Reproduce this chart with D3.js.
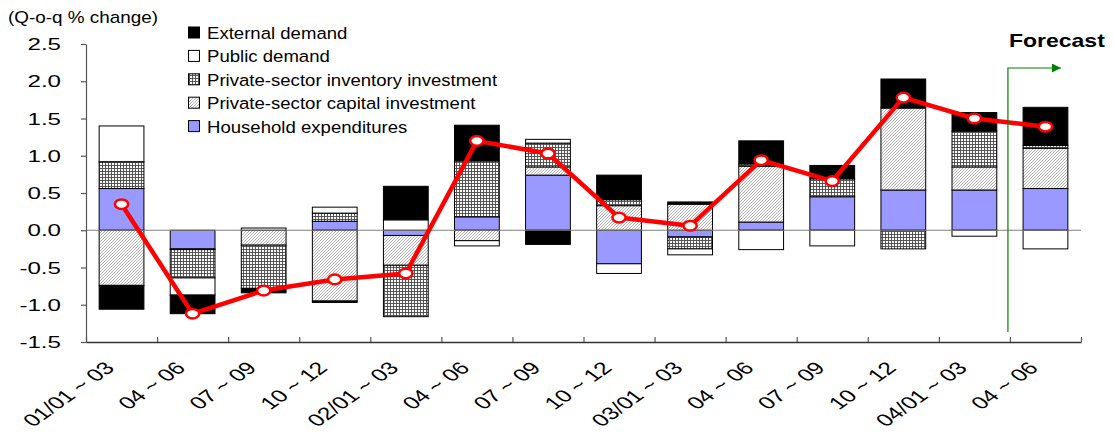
<!DOCTYPE html>
<html>
<head>
<meta charset="utf-8">
<script src="https://d3js.org/d3.v7.min.js"></script>
<style>
    body { margin: 0; background: #fff; }
    svg { display: block; font-family: "Liberation Sans", Arial, sans-serif; }
</style>
</head>
<body>
<svg id="chart" width="1114" height="436"></svg>
<script>
var categories = ["01/01 ~ 03", "04 ~ 06", "07 ~ 09", "10 ~ 12",
                  "02/01 ~ 03", "04 ~ 06", "07 ~ 09", "10 ~ 12",
                  "03/01 ~ 03", "04 ~ 06", "07 ~ 09", "10 ~ 12",
                  "04/01 ~ 03", "04 ~ 06"];

// contributions to q-o-q change, % points
var household    = [0.56, -0.25, 0.00, 0.12, -0.07, 0.18, 0.74, -0.45, -0.09, 0.11, 0.45, 0.54, 0.54, 0.56];
var capital      = [-0.74, -0.01, -0.20, -0.95, -0.40, -0.14, 0.11, 0.33, 0.35, 0.75, 0.00, 1.10, 0.31, 0.54];
var inventory    = [0.36, -0.38, -0.58, 0.11, -0.69, 0.75, 0.32, 0.08, -0.16, 0.03, 0.24, -0.25, 0.48, 0.04];
var publicDemand = [0.48, -0.23, 0.03, 0.08, 0.14, -0.07, 0.05, -0.13, -0.08, -0.26, -0.21, 0.00, -0.08, -0.25];
var external     = [-0.32, -0.25, -0.06, -0.02, 0.45, 0.48, -0.19, 0.33, 0.03, 0.31, 0.18, 0.39, 0.25, 0.51];

// real GDP (red line)
var gdp = [0.35, -1.12, -0.81, -0.66, -0.58, 1.20, 1.03, 0.17, 0.06, 0.94, 0.66, 1.78, 1.50, 1.39];

var yTicks = [-1.5, -1.0, -0.5, 0.0, 0.5, 1.0, 1.5, 2.0, 2.5];
var forecastFrom = 13;   // index of first forecast quarter

var keys = ["household", "capital", "inventory", "publicDemand", "external"];
var legendItems = [
    {key: "external", label: "External demand"},
    {key: "publicDemand", label: "Public demand"},
    {key: "inventory", label: "Private-sector inventory investment"},
    {key: "capital", label: "Private-sector capital investment"},
    {key: "household", label: "Household expenditures"}
];

var table = categories.map(function (c, i) {
    return {
        cat: c,
        household: household[i],
        capital: capital[i],
        inventory: inventory[i],
        publicDemand: publicDemand[i],
        external: external[i]
    };
});

var svg = d3.select("#chart");

var plotLeft = 86, plotRight = 1081, plotTop = 44, plotBottom = 342;

var y = d3.scaleLinear().domain([-1.5, 2.5]).range([plotBottom, plotTop]);
var x = d3.scaleBand()
    .domain(d3.range(categories.length))
    .range([plotLeft, plotRight])
    .paddingInner(0.37)
    .paddingOuter(0.185);
var xEdge = d3.scaleLinear().domain([0, categories.length]).range([plotLeft, plotRight]);

// fill patterns
var defs = svg.append("defs");
var grid = defs.append("pattern").attr("id", "grid")
    .attr("patternUnits", "userSpaceOnUse").attr("width", 3).attr("height", 3);
grid.append("rect").attr("width", 3).attr("height", 3).attr("fill", "#fff");
grid.append("path").attr("d", "M0,0.5H3M0.5,0V3")
    .attr("stroke", "#555").attr("stroke-width", 1);

var hatch = defs.append("pattern").attr("id", "hatch")
    .attr("patternUnits", "userSpaceOnUse").attr("width", 3).attr("height", 3);
hatch.append("rect").attr("width", 3).attr("height", 3).attr("fill", "#fff");
hatch.append("path").attr("d", "M0,3L3,0M-1,1L1,-1M2,4L4,2")
    .attr("stroke", "#999").attr("stroke-width", 0.8);

var fills = {
    household: "#9999ff",
    capital: "url(#hatch)",
    inventory: "url(#grid)",
    publicDemand: "#ffffff",
    external: "#000000"
};

// the original's text is drawn wider than normal
function wideText(parent, tx, ty, str, size, sx, anchor, weight) {
    var g = parent.append("g")
        .attr("transform", "translate(" + tx + "," + ty + ") scale(" + sx + ",1)");
    g.append("text")
        .attr("text-anchor", anchor || "start")
        .attr("font-size", size)
        .attr("font-weight", weight || "normal")
        .attr("fill", "#000")
        .text(str);
    return g;
}

// stacked bars
var stacked = d3.stack().keys(keys).offset(d3.stackOffsetDiverging)(table);

svg.append("g").selectAll("g")
    .data(stacked)
    .enter()
    .append("g")
    .attr("fill", function (s) { return fills[s.key]; })
    .selectAll("rect")
    .data(function (s) { return s.filter(function (d) { return d[1] !== d[0]; }); })
    .enter()
    .append("rect")
    .attr("x", function (d) { return x(table.indexOf(d.data)); })
    .attr("width", x.bandwidth())
    .attr("y", function (d) { return y(Math.max(d[0], d[1])); })
    .attr("height", function (d) { return Math.abs(y(d[0]) - y(d[1])); })
    .attr("stroke", "#000")
    .attr("stroke-width", 1);

// zero line
svg.append("line")
    .attr("x1", plotLeft).attr("x2", plotRight)
    .attr("y1", y(0)).attr("y2", y(0))
    .attr("stroke", "#808080").attr("stroke-width", 1);

// axes
svg.append("g")
    .attr("transform", "translate(" + plotLeft + ",0)")
    .call(d3.axisLeft(y).tickValues(yTicks).tickSize(5).tickSizeOuter(0).tickFormat(""));
var xAxis = svg.append("g")
    .attr("transform", "translate(0," + plotBottom + ")")
    .call(d3.axisBottom(xEdge).tickValues(d3.range(categories.length + 1)).tickSize(-5).tickSizeOuter(0).tickFormat(""));
svg.selectAll(".domain, .tick line").attr("stroke", "#555").attr("stroke-width", 1.2);
xAxis.select(".domain").attr("stroke", "#333").attr("stroke-width", 1.5);

yTicks.forEach(function (t) {
    wideText(svg, 61, y(t) + 6, d3.format(".1f")(t).replace("−", "-"), 17, 1.42, "end");
});

categories.forEach(function (c, i) {
    var cx = x(i) + x.bandwidth() / 2;
    svg.append("g")
        .attr("transform", "translate(" + (cx - 6) + "," + (plotBottom + 27) + ") scale(1.4,1) rotate(-45)")
        .append("text")
        .attr("text-anchor", "end")
        .attr("font-size", 17.5)
        .text(c);
});

// GDP line
var line = d3.line()
    .x(function (d, i) { return x(i) + x.bandwidth() / 2; })
    .y(function (d) { return y(d); });

svg.append("path")
    .datum(gdp)
    .attr("d", line)
    .attr("fill", "none")
    .attr("stroke", "#ff0000")
    .attr("stroke-width", 4.5)
    .attr("stroke-linejoin", "round");

svg.append("g").selectAll("ellipse")
    .data(gdp)
    .enter()
    .append("ellipse")
    .attr("cx", function (d, i) { return x(i) + x.bandwidth() / 2; })
    .attr("cy", function (d) { return y(d); })
    .attr("rx", 6.6)
    .attr("ry", 4.8)
    .attr("fill", "#fff")
    .attr("stroke", "#ff0000")
    .attr("stroke-width", 2.5);

// legend
var legend = svg.append("g");
legendItems.forEach(function (item, i) {
    var cy = 33 + i * 23.4;
    legend.append("rect")
        .attr("x", 188.5).attr("y", cy - 6)
        .attr("width", 11).attr("height", 11)
        .attr("fill", fills[item.key])
        .attr("stroke", "#000").attr("stroke-width", 1);
    wideText(legend, 207, cy + 6, item.label, 16.3, 1.14, "start");
});

// unit label
wideText(svg, 8, 23, "(Q-o-q % change)", 16, 1.18, "start");

// forecast marker
var fx = xEdge(forecastFrom) - 2;
defs.append("marker").attr("id", "arrow")
    .attr("viewBox", "0 0 10 10").attr("refX", 10).attr("refY", 5)
    .attr("markerWidth", 13).attr("markerHeight", 9)
    .attr("markerUnits", "userSpaceOnUse")
    .attr("orient", "auto")
    .append("path").attr("d", "M0,0L10,5L0,10Z").attr("fill", "#008000");

svg.append("path")
    .attr("d", "M" + fx + "," + (plotBottom - 10) + "V" + 68 + "H" + (fx + 53))
    .attr("fill", "none")
    .attr("stroke", "#008000")
    .attr("stroke-width", 1.2)
    .attr("marker-end", "url(#arrow)");

wideText(svg, fx + 1, 47, "Forecast", 17.7, 1.3, "start", "bold");
</script>
</body>
</html>
